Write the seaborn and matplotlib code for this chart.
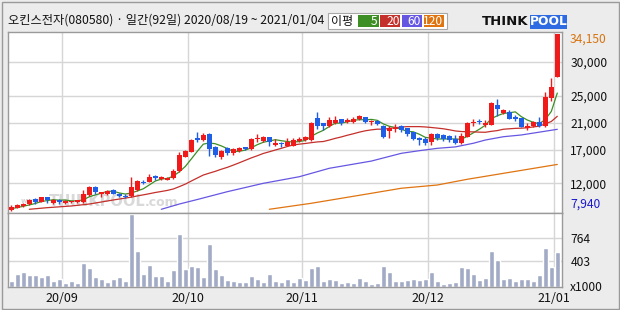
import numpy as np
import pandas as pd
import matplotlib
matplotlib.use("Agg")
import matplotlib.pyplot as plt
import seaborn as sns
from matplotlib.patches import Rectangle
import matplotlib.transforms as mtransforms

# ---------------- data ----------------
title = "오킨스전자(080580) · 일간(92일) 2020/08/19 ~ 2021/01/04"
month_labels = ["20/09", "20/10", "20/11", "20/12", "21/01"]
month_first_idx = [9, 30, 49, 70, 91]

opens = [8090, 8390, 8590, 8890, 9680, 9280, 9970, 9080, 9480, 9080,
         9190, 9190, 9190, 10250, 11450, 10350, 10450, 10950, 10450, 10150,
         10100, 10950, 12250, 12250, 13050, 12650, 12550, 12750, 13850, 15950,
         16700, 18750, 18450, 19300, 17450, 15850, 17200, 16550, 16800, 17400,
         17050, 18550, 18300, 18850, 17700, 18050, 17600, 17600, 18300, 18400,
         18450, 21650, 20900, 20550, 20900, 21550, 21150, 21050, 21550, 21800,
         21050, 21250, 20550, 19750, 20050, 20500, 20150, 19550, 18700, 18550,
         18100, 19250, 19100, 18950, 18550, 17950, 18900, 20900, 21300, 20600,
         20700, 23600, 22450, 22600, 21800, 21700, 20250, 20500, 21150, 20500,
         24600, 27800]
highs = [8740, 8930, 9130, 9680, 9820, 10000, 10000, 9680, 9680, 9480,
         9430, 9530, 10950, 11650, 11650, 10700, 11050, 11150, 10550, 10350,
         12950, 12550, 12550, 13400, 13300, 13150, 12900, 14150, 16700, 16950,
         18550, 19550, 19400, 19400, 17600, 16950, 17450, 17300, 17350, 17450,
         18700, 19300, 19050, 18900, 18550, 18150, 18700, 18700, 18900, 19050,
         21050, 22550, 21000, 21900, 21950, 21600, 21750, 21900, 22200, 21850,
         21450, 21450, 20600, 20550, 20750, 20650, 20250, 19600, 18900, 18850,
         19400, 19400, 19250, 19100, 19100, 19400, 21150, 21500, 21600, 21400,
         24100, 24500, 23000, 22850, 22150, 21750, 20900, 21300, 21900, 25600,
         27650, 34150]
lows = [7940, 8300, 8490, 8790, 8980, 9190, 9080, 8930, 8980, 8980,
        9080, 9080, 9080, 10100, 10350, 9970, 10250, 10350, 9970, 9780,
        9970, 10850, 11950, 12150, 12550, 12550, 12450, 12650, 13700, 15850,
        16600, 18150, 18300, 16050, 15900, 15600, 16200, 16200, 16600, 16950,
        16950, 18150, 18150, 17600, 17550, 17350, 17500, 17500, 18100, 18300,
        18300, 20050, 19900, 20350, 20750, 20650, 20900, 20900, 21350, 20900,
        20650, 20650, 18750, 18700, 19650, 19650, 19050, 18450, 17700, 17700,
        17700, 18450, 18300, 18150, 17850, 17850, 18850, 20550, 20800, 20300,
        20600, 22000, 22300, 21500, 21300, 20300, 19900, 20400, 20400, 20400,
        24250, 27700]
closes = [8530, 8790, 8890, 9570, 9280, 9970, 9480, 9570, 9190, 9380,
          9380, 9480, 10350, 11450, 10750, 10650, 10850, 10450, 10150, 9970,
          11450, 12350, 12050, 13000, 12850, 12900, 12800, 13800, 16200, 16800,
          18450, 18450, 19150, 17100, 16200, 16850, 16450, 17050, 17200, 17100,
          18550, 18750, 18850, 18150, 18050, 17800, 18150, 18450, 18550, 18850,
          20900, 20550, 20450, 21400, 21350, 20900, 21450, 21550, 22000, 21150,
          21250, 20750, 18900, 20250, 20250, 19900, 19250, 18550, 18450, 17950,
          19250, 18700, 18550, 18450, 17950, 19000, 20900, 21150, 21100, 20900,
          23950, 23000, 22850, 21600, 21600, 20400, 20500, 21150, 20500, 24850,
          26300, 34150]
# volume, thousands of shares
volumes = [97, 204, 235, 189, 189, 158, 189, 97, 127, 66,
           97, 66, 373, 296, 158, 127, 81, 127, 158, 97,
           1126, 558, 204, 343, 174, 174, 97, 266, 819, 281,
           327, 312, 158, 665, 281, 189, 112, 97, 81, 81,
           174, 127, 81, 204, 97, 81, 127, 81, 143, 112,
           296, 327, 97, 127, 112, 66, 81, 66, 143, 97,
           51, 66, 327, 235, 97, 97, 112, 127, 112, 127,
           235, 97, 51, 66, 81, 312, 296, 204, 112, 143,
           558, 419, 127, 143, 97, 127, 127, 97, 189, 604,
           312, 542]

ma5 = [8250, 8400, 8600, 8800, 9010, 9300, 9440, 9570, 9500, 9520,
       9400, 9400, 9560, 10010, 10280, 10540, 10810, 10830, 10570, 10410,
       10570, 10870, 11190, 11760, 12340, 12630, 12720, 13070, 13710, 14500,
       15610, 16740, 17810, 17990, 17870, 17550, 17150, 16730, 16750, 16930,
       17270, 17730, 18090, 18280, 18470, 18320, 18200, 18120, 18200, 18360,
       18980, 19460, 19860, 20430, 20930, 20930, 21110, 21330, 21450, 21410,
       21480, 21340, 20810, 20460, 20280, 20010, 19710, 19640, 19280, 18820,
       18690, 18580, 18580, 18580, 18580, 18530, 18970, 19490, 20020, 20610,
       21600, 22020, 22360, 22460, 22600, 21890, 21390, 21050, 20830, 21480,
       22660, 25390]
ma20_idx = [3, 6, 10, 13, 17] + list(range(19, 92))
ma20_val = [8150, 8390, 8640, 8930, 9530,
            9810, 9950, 10130, 10290, 10460, 10640, 10790, 10950, 11160, 11510,
            11880, 12340, 12790, 13230, 13510, 13780, 14090, 14370, 14700, 15050,
            15410, 15770, 16090, 16430, 16680, 16940, 17190, 17460, 17690, 17810,
            17910, 18030, 18140, 18200, 18420, 18670, 18880, 19130, 19350, 19590,
            19790, 19930, 20030, 20030, 20140, 20250, 20350, 20410, 20410, 20410,
            20360, 20280, 20190, 20090, 19940, 19770, 19680, 19650, 19630, 19590,
            19570, 19710, 19820, 20020, 20090, 20150, 20180, 20240, 20370, 20470,
            20820, 21170, 21940]
ma60_idx = [25, 28, 31, 36, 42, 48, 53, 60, 65, 68, 71, 74, 77, 79, 82, 85, 91]
ma60_val = [8150, 8930, 9600, 10760, 12000, 12980, 14230, 15300, 16450, 16840,
            17190, 17400, 17940, 18420, 18910, 19170, 20010]
ma120_idx = [43, 50, 60, 65, 71, 76, 82, 91]
ma120_val = [8150, 9040, 10520, 11270, 11750, 12600, 13480, 14800]

price_ticks = [30000, 25000, 21000, 17000, 12000]
price_tick_labels = ["30,000", "25,000", "21,000", "17,000", "12,000"]
price_max, price_min = 34150, 7940
vol_ticks = [403, 764]
vol_tick_labels = ["403", "764"]
legend_items = [("5", "#3d8f25"), ("20", "#c4302b"), ("60", "#6657e3"), ("120", "#e07410")]

# ---------------- style ----------------
sns.set_theme(style="white")
plt.rcParams["font.family"] = ["Noto Sans CJK KR", "DejaVu Sans"]

W, H = 620, 310
fig = plt.figure(figsize=(6.2, 3.1), dpi=100, facecolor="#ececec")

def fx(px):
    return px / W

def fy(py):
    return 1 - py / H

L, R = 7.5, 562
TOP, MID, BOT = 31.7, 212.7, 287.3
axp = fig.add_axes([fx(L), fy(MID), fx(R - L), (MID - TOP) / H])
axv = fig.add_axes([fx(L), fy(BOT), fx(R - L), (BOT - MID) / H])

n = len(closes)
idx = np.arange(n)
df = pd.DataFrame({"i": idx, "o": opens, "h": highs, "l": lows, "c": closes, "v": volumes})

grid_c = "#d6d6d6"
spine_c = "#9a9a9a"
up_c, dn_c = "#f01a1a", "#1f5ee6"
xlo, xhi = (L - 11.3) / 6, (R - 11.3) / 6

for ax in (axp, axv):
    ax.set_facecolor("white")
    for s in ax.spines.values():
        s.set_color(spine_c)
        s.set_linewidth(1.0)
    ax.set_xlim(xlo, xhi)
    for m in month_first_idx:
        ax.axvline(m - 0.5, color=grid_c, lw=1.0, zorder=0)

# ---- price panel ----
axp.set_ylim(7644, 34486)
for t in price_ticks:
    axp.axhline(t, color=grid_c, lw=1.0, zorder=0)

# watermark
axp.text(0.024, 0.05, "www.", transform=axp.transAxes, fontsize=5,
         color="#d4d4d4", fontweight="bold", family="DejaVu Sans", zorder=0.5, va="bottom")
axp.text(0.074, 0.02, "THINKPOOL", transform=axp.transAxes, fontsize=10.5,
         color="#d9d9d9", fontweight="bold", family="DejaVu Sans", zorder=0.5, va="bottom")
axp.text(0.247, 0.02, ".com", transform=axp.transAxes, fontsize=9,
         color="#d9d9d9", fontweight="bold", family="DejaVu Sans", zorder=0.5, va="bottom")

# moving averages
sns.lineplot(x=idx, y=ma5, ax=axp, color="#3d8f25", lw=0.9, zorder=2)
sns.lineplot(x=ma20_idx, y=ma20_val, ax=axp, color="#c4302b", lw=0.9, zorder=2)
sns.lineplot(x=ma60_idx, y=ma60_val, ax=axp, color="#6657e3", lw=0.9, zorder=2)
sns.lineplot(x=ma120_idx, y=ma120_val, ax=axp, color="#e07410", lw=0.9, zorder=2)

# candles
up = df["c"] >= df["o"]
colors = np.where(up, up_c, dn_c)
body_lo = np.minimum(df["o"], df["c"])
body_h = np.maximum(np.abs(df["c"] - df["o"]), 130)
axp.vlines(df["i"], df["l"], df["h"], colors=colors, lw=1.0, zorder=3)
axp.bar(df["i"], body_h, bottom=body_lo, width=0.8, color=colors, lw=0, zorder=4)

axp.yaxis.tick_right()
axp.set_yticks(price_ticks)
axp.set_yticklabels(price_tick_labels)
axp.tick_params(axis="y", length=0, pad=6, labelsize=8.7, labelcolor="#111111")
axp.tick_params(axis="x", length=0, labelbottom=False)
axp.set_xlabel("")
axp.set_ylabel("")
trans_p = mtransforms.blended_transform_factory(axp.transAxes, axp.transData)
axp.text(1.0 + 8 / (R - L), price_max + 250, "34,150", transform=trans_p, fontsize=8.7,
         color="#d87410", va="top", ha="left")
axp.text(1.0 + 8 / (R - L), price_min, "7,940", transform=trans_p, fontsize=8.7,
         color="#1a1acc", va="bottom", ha="left")

# ---- volume panel ----
sns.barplot(data=df, x="i", y="v", native_scale=True, color="#a2abc6",
            saturation=1, errorbar=None, width=0.82, ax=axv, zorder=2)
axv.set_xlim(xlo, xhi)
axv.set_ylim(0, 1146)
for t in vol_ticks:
    axv.axhline(t, color=grid_c, lw=1.0, zorder=0)
axv.yaxis.tick_right()
axv.set_yticks(vol_ticks)
axv.set_yticklabels(vol_tick_labels)
axv.tick_params(axis="y", length=0, pad=6, labelsize=8.7, labelcolor="#111111")
axv.set_xticks([m - 0.5 for m in month_first_idx])
axv.set_xticklabels(month_labels)
axv.tick_params(axis="x", length=0, pad=3.5, labelsize=9, labelcolor="#111111")
axv.set_xlabel("")
axv.set_ylabel("")
axv.text(1.0 + 8 / (R - L), 0.0, "x1000", transform=axv.transAxes, fontsize=8.7,
         color="#111111", va="center", ha="left")

# ---- header ----
fig.text(fx(8), fy(20.5), title, fontsize=8.8, color="#111111", va="center", ha="left")

# legend box
fig.patches.append(Rectangle((fx(327.5), fy(29.3)), fx(120), 16 / H, transform=fig.transFigure,
                             facecolor="white", edgecolor="#a8a8a8", lw=0.8))
fig.text(fx(331.5), fy(21.3), "이평", fontsize=8.7, color="#111111", va="center", ha="left")
bx = [358.3, 380.0, 401.7, 424.0]
for (lab, col), x0 in zip(legend_items, bx):
    fig.patches.append(Rectangle((fx(x0), fy(27.3)), fx(20.3), 12.3 / H, transform=fig.transFigure,
                                 facecolor=col, edgecolor="none"))
    fig.text(fx(x0 + 19.5), fy(21.3), lab, fontsize=8.7, color="white", va="center", ha="right")

# ThinkPool logo
fig.text(fx(482), fy(21.5), "THINK", fontsize=9.5, fontweight="bold", color="#111111",
         family="DejaVu Sans", va="center", ha="left")
fig.patches.append(Rectangle((fx(530), fy(28.5)), fx(37), 13.5 / H, transform=fig.transFigure,
                             facecolor="#2e6be3", edgecolor="none"))
fig.text(fx(548.5), fy(21.5), "POOL", fontsize=8.8, fontweight="bold", color="white",
         family="DejaVu Sans", va="center", ha="center")

# outer frame
fig.patches.append(Rectangle((fx(1.5), fy(308.5)), fx(617), 307 / H, transform=fig.transFigure,
                             facecolor="none", edgecolor="#9a9a9a", lw=1.0))

fig.savefig("out.png", dpi=100, facecolor=fig.get_facecolor())
